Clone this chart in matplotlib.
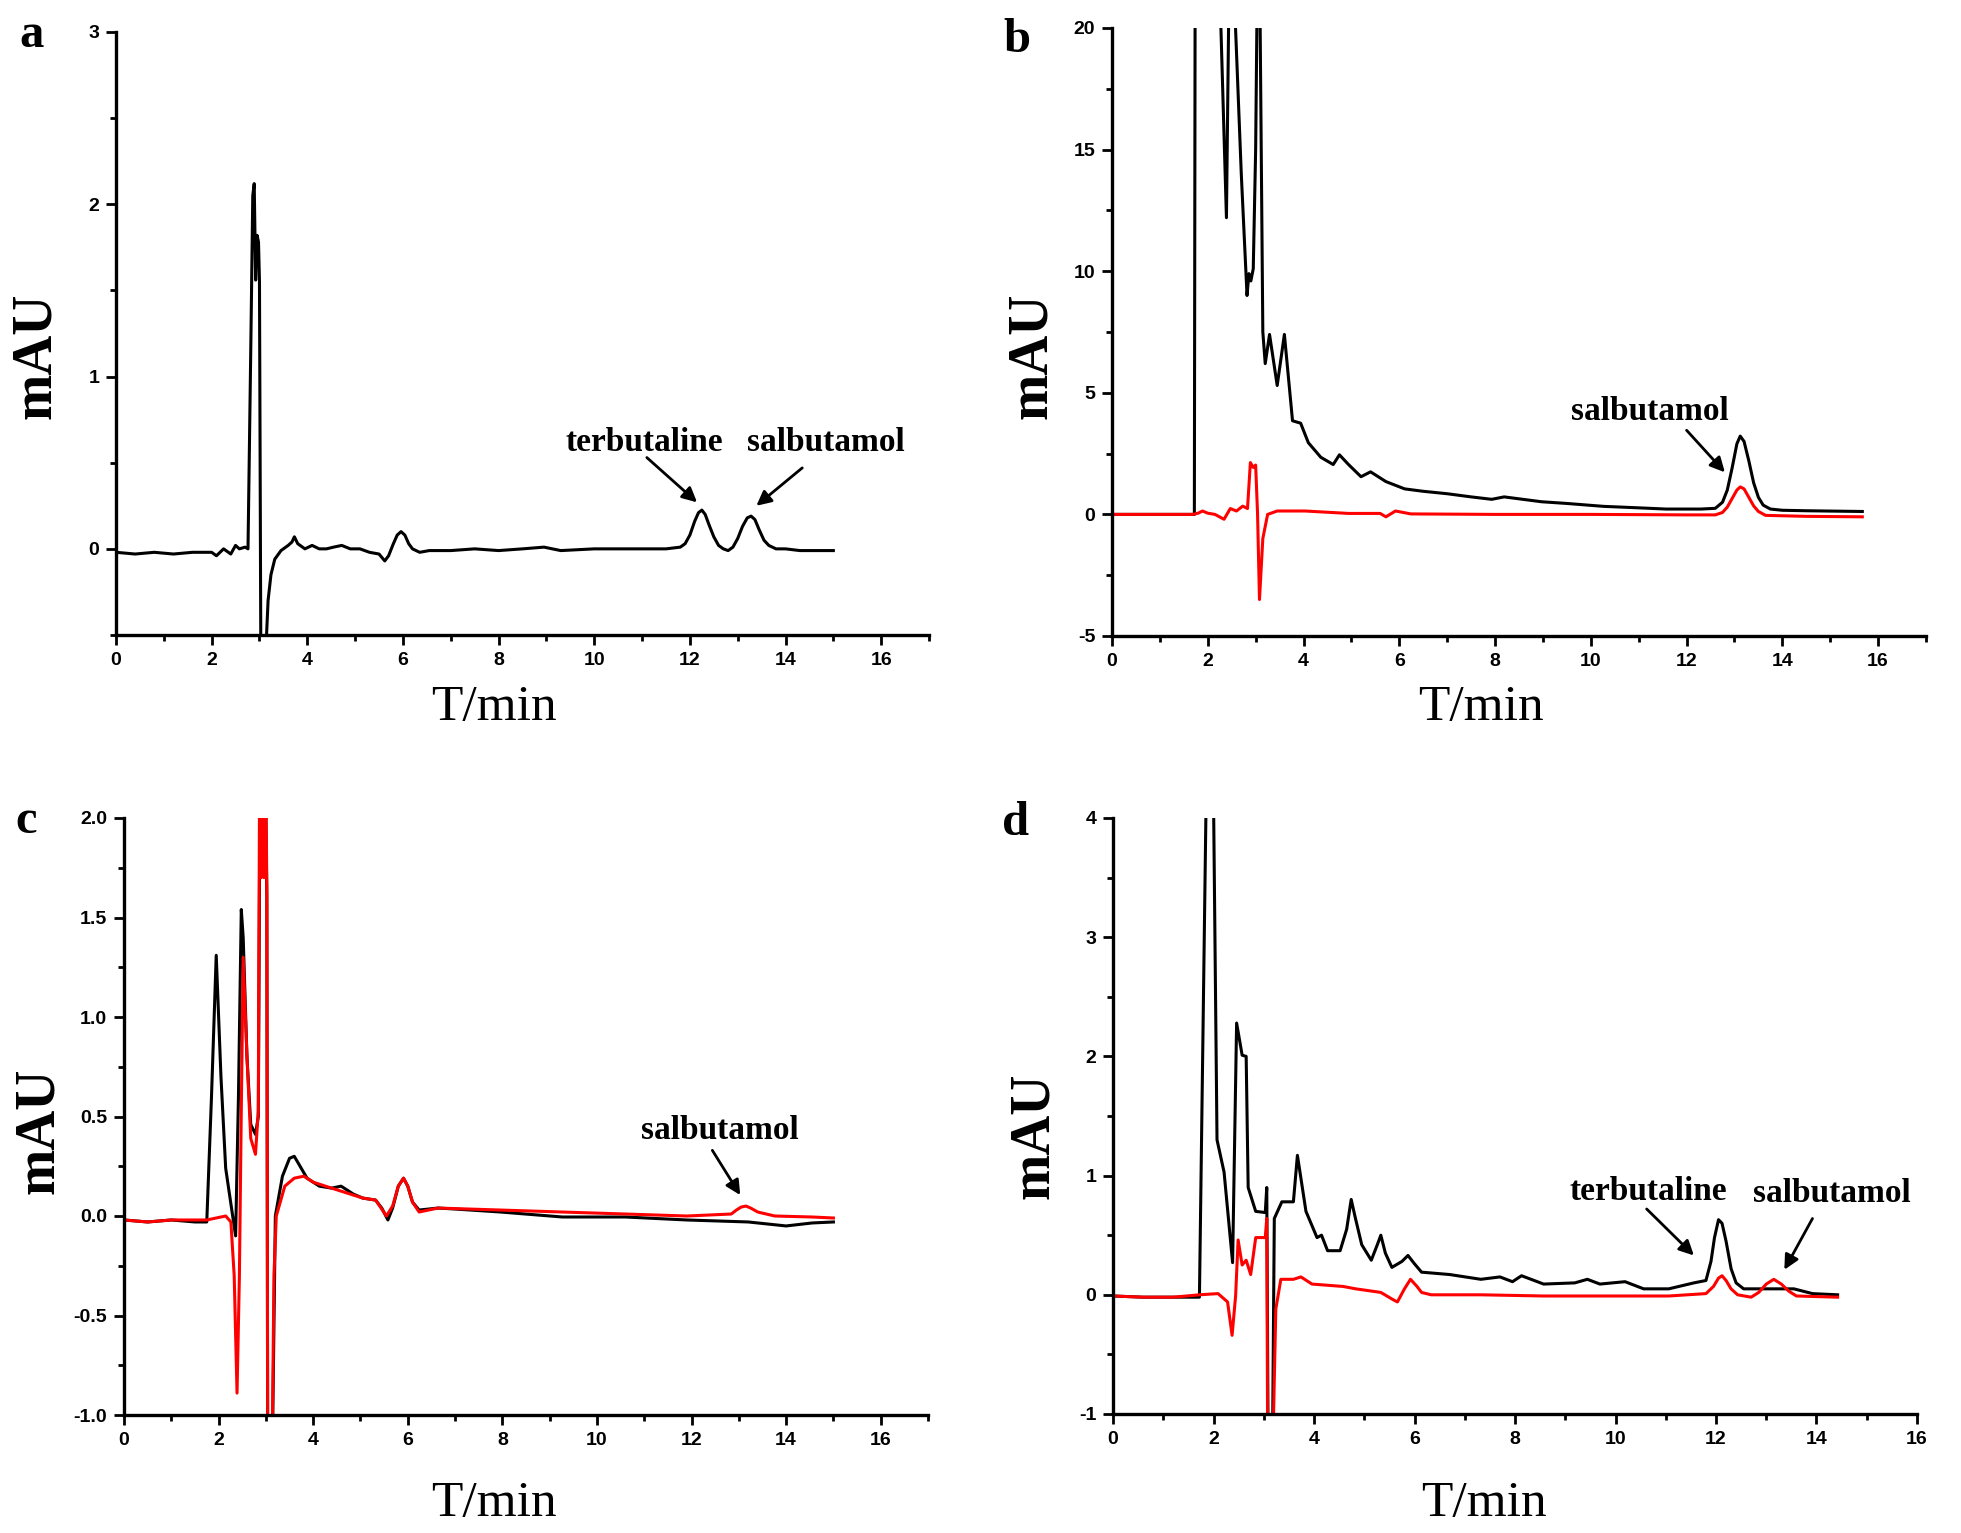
import matplotlib
matplotlib.use("Agg")
import matplotlib.pyplot as plt
from matplotlib.ticker import MultipleLocator

plt.rcParams['font.family'] = 'Liberation Sans'
plt.rcParams['font.weight'] = 'bold'
plt.rcParams['axes.unicode_minus'] = False

# ---- data (time in min, signal in mAU) ----
# a: standard mixture
t_a = [0, 0.4, 0.8, 1.2, 1.6, 2.0, 2.1, 2.25, 2.4, 2.5, 2.58, 2.7, 2.76, 2.82, 2.86, 2.89,
       2.92, 2.95, 2.98, 3.0, 3.04, 3.1, 3.14, 3.18, 3.24, 3.32, 3.45, 3.6, 3.68, 3.73, 3.8,
       3.95, 4.1, 4.25, 4.4, 4.55, 4.72, 4.9, 5.1, 5.3, 5.5, 5.62, 5.7, 5.8, 5.88, 5.96, 6.04,
       6.12, 6.2, 6.35, 6.55, 7.0, 7.5, 8.0, 8.5, 8.95, 9.3, 10.0, 10.5, 11.0, 11.5, 11.8, 11.9,
       12.0, 12.1, 12.18, 12.25, 12.32, 12.4, 12.5, 12.6, 12.7, 12.8, 12.9, 13.0, 13.1, 13.2,
       13.28, 13.36, 13.45, 13.55, 13.65, 13.8, 14.0, 14.3, 14.6, 15.0]
y_a = [-0.02, -0.03, -0.02, -0.03, -0.02, -0.02, -0.04, 0.0, -0.03, 0.02, 0.0, 0.01, 0.0,
       1.2, 2.05, 2.12, 1.56, 1.82, 1.78, 1.55, -1.5, -1.2, -0.55, -0.3, -0.15, -0.06, -0.01,
       0.02, 0.04, 0.07, 0.03, 0.0, 0.02, 0.0, 0.0, 0.01, 0.02, 0.0, 0.0, -0.02, -0.03, -0.07,
       -0.04, 0.03, 0.08, 0.1, 0.08, 0.03, 0.0, -0.02, -0.01, -0.01, 0.0, -0.01, 0.0, 0.01,
       -0.01, 0.0, 0.0, 0.0, 0.0, 0.01, 0.03, 0.08, 0.16, 0.21, 0.225, 0.2, 0.14, 0.07, 0.02,
       0.0, -0.01, 0.01, 0.06, 0.13, 0.18, 0.19, 0.17, 0.11, 0.05, 0.02, 0.0, 0.0, -0.01,
       -0.01, -0.01]

# b: urine sample (black) and blank (red)
t_b_black = [0, 1.0, 1.72, 1.75, 2.2, 2.26, 2.39, 2.44, 2.5, 2.56, 2.7, 2.82, 2.86, 2.9, 2.95,
             3.0, 3.03, 3.06, 3.09, 3.15, 3.2, 3.29, 3.45, 3.6, 3.77, 3.94, 4.1, 4.36, 4.62,
             4.75, 4.94, 5.2, 5.4, 5.72, 6.11, 6.5, 7.0, 7.5, 7.93, 8.19, 8.97, 9.5, 10.27,
             11.0, 11.57, 12.3, 12.6, 12.75, 12.85, 12.95, 13.05, 13.12, 13.2, 13.3, 13.4,
             13.5, 13.6, 13.75, 14.0, 14.5, 15.67]
y_b_black = [0, 0, 0, 40, 40, 21, 12.2, 21, 40, 21, 14, 9.0, 9.9, 9.6, 10.1, 15, 21, 40, 21,
             7.5, 6.2, 7.4, 5.3, 7.4, 3.85, 3.75, 2.95, 2.35, 2.05, 2.45, 2.05, 1.55, 1.75,
             1.35, 1.05, 0.95, 0.85, 0.72, 0.62, 0.72, 0.52, 0.45, 0.33, 0.27, 0.22, 0.22,
             0.25, 0.5, 1.0, 1.9, 2.9, 3.22, 3.0, 2.2, 1.3, 0.7, 0.38, 0.22, 0.17, 0.15, 0.12]
t_b_red = [0, 1.69, 1.8, 1.89, 2.0, 2.15, 2.34, 2.47, 2.6, 2.73, 2.83, 2.89, 2.95, 3.0, 3.04,
           3.08, 3.15, 3.25, 3.45, 4.03, 4.94, 5.6, 5.72, 5.92, 6.24, 8.0, 10.0, 12.0, 12.6,
           12.75, 12.85, 12.95, 13.05, 13.12, 13.2, 13.3, 13.4, 13.5, 13.65, 14.5, 15.67]
y_b_red = [0, 0, 0.05, 0.14, 0.05, 0, -0.2, 0.24, 0.14, 0.34, 0.24, 2.13, 1.93, 2.03, 0.02,
           -3.5, -0.99, 0.0, 0.14, 0.14, 0.04, 0.04, -0.1, 0.14, 0.02, 0.0, 0.0, -0.02, -0.02,
           0.08, 0.3, 0.65, 1.0, 1.13, 1.05, 0.7, 0.35, 0.12, -0.04, -0.08, -0.1]

# c: second sample
t_c_black = [0, 0.5, 1.0, 1.5, 1.75, 1.85, 1.95, 2.05, 2.15, 2.31, 2.36, 2.42, 2.48, 2.52,
             2.6, 2.68, 2.78, 2.84, 2.88, 2.98, 3.02, 3.04, 3.12, 3.2, 3.35, 3.5, 3.6, 3.87,
             4.13, 4.39, 4.59, 4.72, 4.85, 5.05, 5.32, 5.45, 5.58, 5.68, 5.8, 5.91, 6.0, 6.1,
             6.24, 6.64, 7.0, 7.96, 9.27, 10.6, 11.9, 13.2, 14.0, 14.55, 15.0]
y_c_black = [-0.02, -0.03, -0.02, -0.03, -0.03, 0.6, 1.31, 0.7, 0.24, -0.02, -0.1, 0.6, 1.54,
             1.4, 0.8, 0.46, 0.41, 0.5, 2.4, 2.4, 1.6, -1.5, -1.5, 0.0, 0.2, 0.29, 0.3, 0.19,
             0.15, 0.14, 0.15, 0.13, 0.11, 0.09, 0.08, 0.04, -0.02, 0.04, 0.15, 0.19, 0.15,
             0.07, 0.03, 0.04, 0.035, 0.02, -0.005, -0.005, -0.02, -0.03, -0.05, -0.035, -0.03]
t_c_red = [0, 0.5, 1.0, 1.5, 1.75, 1.95, 2.15, 2.26, 2.33, 2.39, 2.44, 2.48, 2.52, 2.6, 2.68,
           2.78, 2.84, 2.87, 2.9, 2.93, 2.96, 2.99, 3.02, 3.04, 3.12, 3.17, 3.22, 3.4, 3.6,
           3.8, 4.0, 4.39, 5.05, 5.32, 5.55, 5.68, 5.8, 5.91, 6.0, 6.1, 6.24, 6.64, 7.96, 9.27,
           10.6, 11.9, 12.84, 12.95, 13.05, 13.15, 13.25, 13.4, 13.76, 14.55, 15.0]
y_c_red = [-0.02, -0.03, -0.02, -0.02, -0.02, -0.01, 0.0, -0.03, -0.3, -0.89, -0.3, 0.53,
           1.3, 0.8, 0.39, 0.31, 0.53, 2.4, 1.7, 2.4, 1.7, 2.4, 1.65, -1.5, -1.5, -0.3, 0.0,
           0.15, 0.19, 0.2, 0.17, 0.14, 0.09, 0.08, 0.0, 0.05, 0.15, 0.19, 0.15, 0.07, 0.02,
           0.04, 0.03, 0.02, 0.01, 0.0, 0.01, 0.03, 0.045, 0.05, 0.04, 0.02, 0.0, -0.005,
           -0.01]

# d: third sample
t_d_black = [0, 0.6, 1.2, 1.72, 1.88, 1.98, 2.07, 2.21, 2.38, 2.46, 2.57, 2.65, 2.69, 2.84,
             3.03, 3.06, 3.09, 3.17, 3.21, 3.36, 3.59, 3.67, 3.84, 4.06, 4.15, 4.27, 4.52,
             4.65, 4.74, 4.82, 4.95, 5.14, 5.26, 5.33, 5.42, 5.55, 5.75, 5.87, 6.0, 6.14, 6.7,
             7.32, 7.7, 7.95, 8.13, 8.57, 9.19, 9.44, 9.69, 10.19, 10.56, 11.06, 11.56, 11.8,
             11.9, 11.97, 12.05, 12.12, 12.2, 12.3, 12.4, 12.55, 13.05, 13.55, 13.92, 14.42]
y_d_black = [-0.01, -0.02, -0.02, -0.02, 5.0, 5.0, 1.3, 1.03, 0.27, 2.28, 2.01, 2.0, 0.9,
             0.7, 0.69, 0.9, -1.5, -1.5, 0.64, 0.78, 0.78, 1.17, 0.7, 0.48, 0.5, 0.37, 0.37,
             0.55, 0.8, 0.65, 0.42, 0.29, 0.42, 0.5, 0.35, 0.23, 0.28, 0.33, 0.26, 0.19, 0.17,
             0.13, 0.15, 0.11, 0.16, 0.09, 0.1, 0.13, 0.09, 0.11, 0.05, 0.05, 0.1, 0.12, 0.28,
             0.48, 0.63, 0.6, 0.45, 0.22, 0.1, 0.05, 0.05, 0.05, 0.01, 0.0]
t_d_red = [0, 0.6, 1.2, 1.72, 2.09, 2.28, 2.37, 2.44, 2.49, 2.57, 2.65, 2.74, 2.84, 3.03,
           3.06, 3.08, 3.17, 3.24, 3.34, 3.59, 3.74, 3.96, 4.58, 4.83, 5.33, 5.57, 5.66, 5.8,
           5.92, 6.05, 6.14, 6.33, 7.32, 8.57, 9.81, 11.06, 11.8, 11.95, 12.05, 12.12, 12.2,
           12.3, 12.43, 12.7, 12.85, 13.0, 13.15, 13.3, 13.45, 13.6, 14.42]
y_d_red = [-0.01, -0.02, -0.02, 0.0, 0.01, -0.06, -0.34, -0.01, 0.46, 0.25, 0.29, 0.17, 0.48,
           0.48, 0.64, -1.5, -1.5, -0.12, 0.13, 0.13, 0.15, 0.09, 0.07, 0.05, 0.02, -0.04,
           -0.06, 0.05, 0.13, 0.07, 0.02, 0.0, 0.0, -0.01, -0.01, -0.01, 0.01, 0.07, 0.14,
           0.16, 0.12, 0.05, 0.0, -0.02, 0.02, 0.09, 0.13, 0.09, 0.03, -0.01, -0.02]

W, H = 1961, 1533
fig = plt.figure(figsize=(W / 100, H / 100), dpi=100)


def axes_px(l, t, r, b):
    return fig.add_axes([l / W, 1 - b / H, (r - l) / W, (b - t) / H])


def style(ax, xmax, ylim, ymaj, ymin):
    ax.set_xlim(0, xmax)
    ax.set_ylim(*ylim)
    ax.xaxis.set_major_locator(MultipleLocator(2))
    ax.xaxis.set_minor_locator(MultipleLocator(1))
    ax.yaxis.set_major_locator(MultipleLocator(ymaj))
    ax.yaxis.set_minor_locator(MultipleLocator(ymin))
    for s in ['top', 'right']:
        ax.spines[s].set_visible(False)
    for s in ['left', 'bottom']:
        ax.spines[s].set_linewidth(2.4)
    ax.tick_params(which='major', direction='out', length=7, width=2, labelsize=14, pad=5)
    ax.tick_params(which='minor', direction='out', length=4, width=2)
    ax.set_xlabel('T/min', family='Liberation Serif', fontweight='normal', fontsize=37)
    ax.set_ylabel('mAU', family='Liberation Serif', fontweight='bold', fontsize=40)


def label_at(ax, xlab_px, ylab_px):
    # place axis labels at given figure pixel centres
    inv = ax.transAxes.inverted()
    xa = inv.transform((xlab_px[0], H - xlab_px[1]))
    ya = inv.transform((ylab_px[0], H - ylab_px[1]))
    ax.xaxis.set_label_coords(xa[0], xa[1])
    ax.xaxis.label.set_va('center')
    ax.yaxis.set_label_coords(ya[0], ya[1])
    ax.yaxis.label.set_va('center')


def arrow(ax, tail, tip):
    ax.annotate('', xy=tip, xytext=tail,
                arrowprops=dict(arrowstyle='-|>', color='black', lw=2,
                                mutation_scale=22, shrinkA=0, shrinkB=0))


def note(ax, x, y, s):
    ax.text(x, y, s, ha='center', va='center', family='Liberation Serif',
            fontweight='bold', fontsize=24)


lw = 2.2

# panel a
ax_a = axes_px(116, 32, 929, 635)
ax_a.plot(t_a, y_a, color='black', lw=lw)
style(ax_a, 17, (-0.5, 3), 1, 0.5)
note(ax_a, 11.05, 0.62, 'terbutaline')
note(ax_a, 14.85, 0.62, 'salbutamol')
arrow(ax_a, (11.1, 0.53), (12.15, 0.27))
arrow(ax_a, (14.35, 0.47), (13.39, 0.25))

# panel b
ax_b = axes_px(1112, 28, 1926, 636)
ax_b.plot(t_b_black, y_b_black, color='black', lw=lw)
ax_b.plot(t_b_red, y_b_red, color='red', lw=lw)
style(ax_b, 17, (-5, 20), 5, 2.5)
note(ax_b, 11.23, 4.24, 'salbutamol')
arrow(ax_b, (12.0, 3.46), (12.8, 1.73))

# panel c
ax_c = axes_px(124, 818, 928, 1415)
ax_c.plot(t_c_black, y_c_black, color='black', lw=lw)
ax_c.plot(t_c_red, y_c_red, color='red', lw=lw)
style(ax_c, 17, (-1, 2), 0.5, 0.25)
note(ax_c, 12.6, 0.43, 'salbutamol')
arrow(ax_c, (12.44, 0.33), (13.03, 0.105))

# panel d
ax_d = axes_px(1113, 818, 1917, 1414)
ax_d.plot(t_d_black, y_d_black, color='black', lw=lw)
ax_d.plot(t_d_red, y_d_red, color='red', lw=lw)
style(ax_d, 16, (-1, 4), 1, 0.5)
note(ax_d, 10.65, 0.87, 'terbutaline')
note(ax_d, 14.3, 0.85, 'salbutamol')
arrow(ax_d, (10.62, 0.72), (11.56, 0.33))
arrow(ax_d, (13.92, 0.64), (13.36, 0.21))

label_at(ax_a, (494, 708), (36, 356))
label_at(ax_b, (1481, 708), (1032, 356))
label_at(ax_c, (494, 1504), (39, 1131))
label_at(ax_d, (1484, 1504), (1034, 1136))

# panel letters
for s, x, y in [('a', 19, 47), ('b', 1003, 52), ('c', 15, 833), ('d', 1002, 835)]:
    fig.text(x / W, 1 - y / H, s, family='Liberation Serif', fontweight='bold',
             fontsize=35, ha='left', va='baseline')

fig.savefig('out.png', dpi=100)
